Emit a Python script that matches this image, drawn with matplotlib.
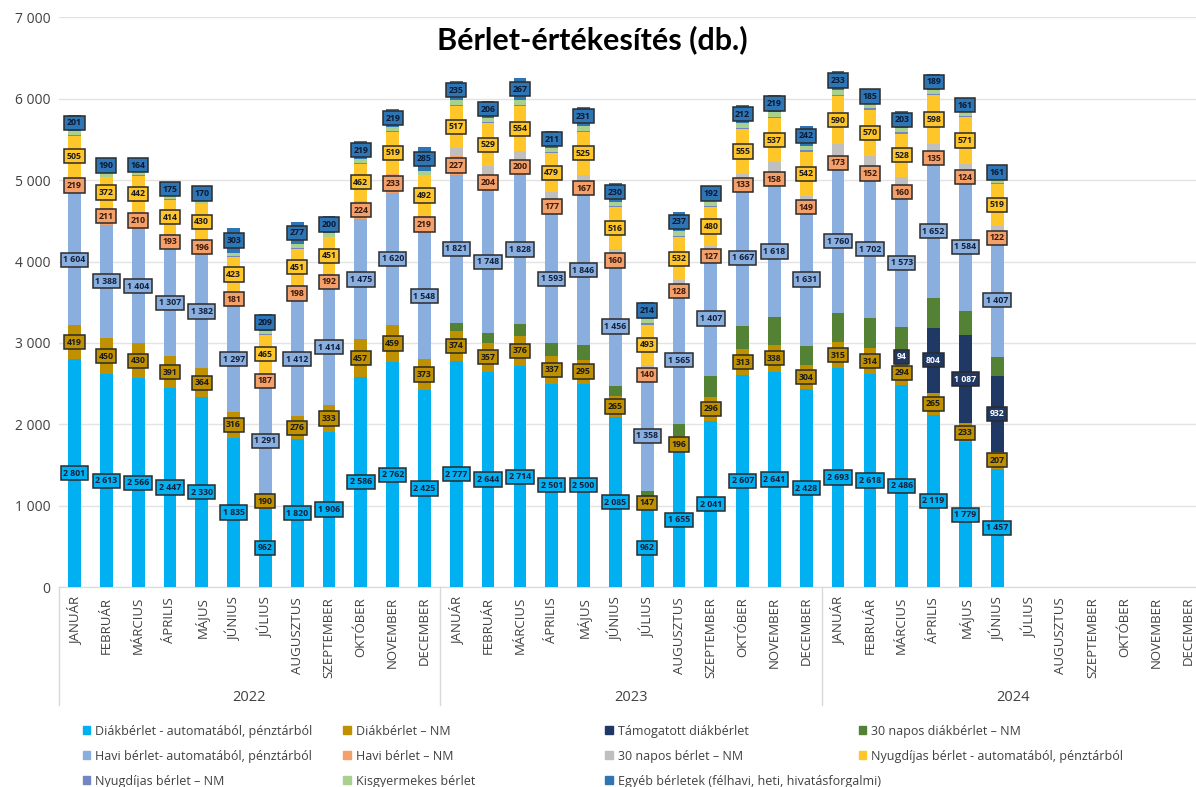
import numpy as np
import matplotlib.pyplot as plt
from matplotlib.patches import Patch
import matplotlib.transforms as mtransforms

plt.rcParams['font.family'] = ['Open Sans', 'DejaVu Sans']

# kategóriák
honapok = ['JANUÁR', 'FEBRUÁR', 'MÁRCIUS', 'ÁPRILIS', 'MÁJUS', 'JÚNIUS', 'JÚLIUS',
           'AUGUSZTUS', 'SZEPTEMBER', 'OKTÓBER', 'NOVEMBER', 'DECEMBER']
evek = ['2022', '2023', '2024']

# sorozatok (2022 jan - 2024 dec, 36 hónap; 2024 júl-dec még nincs adat)
diak_auto = [2801, 2613, 2566, 2447, 2330, 1835, 962, 1820, 1906, 2586, 2762, 2425,
             2777, 2644, 2714, 2501, 2500, 2085, 962, 1655, 2041, 2607, 2641, 2428,
             2693, 2618, 2486, 2119, 1779, 1457, 0, 0, 0, 0, 0, 0]
diak_nm = [419, 450, 430, 391, 364, 316, 190, 276, 333, 457, 459, 373,
           374, 357, 376, 337, 295, 265, 147, 196, 296, 313, 338, 304,
           315, 314, 294, 265, 233, 207, 0, 0, 0, 0, 0, 0]
tamogatott = [0, 0, 0, 0, 0, 0, 0, 0, 0, 0, 0, 0,
              0, 0, 0, 0, 0, 0, 0, 0, 0, 0, 0, 0,
              0, 0, 94, 804, 1087, 932, 0, 0, 0, 0, 0, 0]
diak30_nm = [0, 0, 0, 0, 0, 0, 0, 0, 0, 0, 0, 0,
             95, 120, 145, 155, 175, 125, 70, 155, 260, 290, 335, 230,
             360, 370, 325, 360, 290, 225, 0, 0, 0, 0, 0, 0]
havi_auto = [1604, 1388, 1404, 1307, 1382, 1297, 1291, 1412, 1414, 1475, 1620, 1548,
             1821, 1748, 1828, 1593, 1846, 1456, 1358, 1565, 1407, 1667, 1618, 1631,
             1760, 1702, 1573, 1652, 1584, 1407, 0, 0, 0, 0, 0, 0]
havi_nm = [219, 211, 210, 193, 196, 181, 187, 198, 192, 224, 233, 219,
           227, 204, 200, 177, 167, 160, 140, 128, 127, 133, 158, 149,
           173, 152, 160, 135, 124, 122, 0, 0, 0, 0, 0, 0]
berlet30_nm = [0, 0, 0, 0, 0, 0, 0, 0, 0, 0, 0, 0,
               100, 95, 90, 85, 85, 60, 55, 70, 60, 65, 130, 65,
               140, 140, 110, 110, 105, 85, 0, 0, 0, 0, 0, 0]
nyugdij_auto = [505, 372, 442, 414, 430, 423, 465, 451, 451, 462, 519, 492,
                517, 529, 554, 479, 525, 516, 493, 532, 480, 555, 537, 542,
                590, 570, 528, 598, 571, 519, 0, 0, 0, 0, 0, 0]
nyugdij_nm = [10, 10, 10, 10, 10, 10, 10, 10, 10, 10, 10, 10,
              15, 15, 15, 15, 15, 15, 15, 15, 15, 15, 15, 15,
              15, 15, 15, 15, 15, 15, 0, 0, 0, 0, 0, 0]
kisgyermekes = [45, 40, 40, 40, 40, 45, 40, 45, 50, 45, 50, 50,
                60, 55, 60, 55, 60, 55, 50, 55, 55, 60, 60, 60,
                60, 55, 55, 55, 50, 45, 0, 0, 0, 0, 0, 0]
egyeb = [201, 190, 164, 175, 170, 303, 209, 277, 200, 219, 219, 285,
         235, 206, 267, 211, 231, 230, 214, 237, 192, 212, 219, 242,
         233, 185, 203, 189, 161, 161, 0, 0, 0, 0, 0, 0]

sorozatok = [
    ('Diákbérlet - automatából, pénztárból', diak_auto, '#00B0F0', True, '#10213F'),
    ('Diákbérlet – NM', diak_nm, '#BF9000', True, '#1A1A1A'),
    ('Támogatott diákbérlet', tamogatott, '#203864', True, 'white'),
    ('30 napos diákbérlet – NM', diak30_nm, '#548235', False, None),
    ('Havi bérlet- automatából, pénztárból', havi_auto, '#8AAEDD', True, '#10213F'),
    ('Havi bérlet – NM', havi_nm, '#F4A06B', True, '#3A1A0A'),
    ('30 napos bérlet – NM', berlet30_nm, '#BFBFBF', False, None),
    ('Nyugdíjas bérlet - automatából, pénztárból', nyugdij_auto, '#FFC62A', True, '#1A1A1A'),
    ('Nyugdíjas bérlet – NM', nyugdij_nm, '#7386C4', False, None),
    ('Kisgyermekes bérlet', kisgyermekes, '#A9D18E', False, None),
    ('Egyéb bérletek (félhavi, heti, hivatásforgalmi)', egyeb, '#2E75B6', True, '#0B1A33'),
]


def ezres(v):
    return f'{v:,}'.replace(',', ' ')


fig = plt.figure(figsize=(11.96, 7.87), dpi=100)
ax = fig.add_axes([0.049, 0.254, 0.951, 0.724])

x = np.arange(36)
alap = np.zeros(36)
fogantyuk = {}
for nev, ertek, szin, cimke, tszin in sorozatok:
    ertek = np.array(ertek, dtype=float)
    bars = ax.bar(x, ertek, 0.4, bottom=alap, color=szin, label=nev, zorder=3)
    fogantyuk[nev] = Patch(color=szin)
    if cimke:
        feliratok = [ezres(int(v)) if v > 0 else '' for v in ertek]
        txts = ax.bar_label(bars, labels=feliratok, label_type='center',
                            fontsize=6.3, fontweight='bold', color=tszin, zorder=5)
        for t in txts:
            if t.get_text():
                t.set_bbox(dict(boxstyle='square,pad=0.3', fc=szin, ec='#2B2B2B', lw=1.1))
    alap = alap + ertek

ax.set_ylim(0, 7000)
ax.set_xlim(-0.5, 35.25)
ax.set_yticks(range(0, 7001, 1000))
ax.set_yticklabels([ezres(v) for v in range(0, 7001, 1000)], fontsize=10, color='#404040')
ax.yaxis.grid(True, color='#E3E3E3', lw=1, zorder=0)
ax.set_axisbelow(True)
for s in ['top', 'right', 'left']:
    ax.spines[s].set_visible(False)
ax.spines['bottom'].set_color('#D9D9D9')
ax.tick_params(axis='y', length=0, pad=6)
ax.set_xticks(x)
ax.set_xticklabels(honapok * 3, rotation=90, fontsize=9.5, color='#404040')
ax.tick_params(axis='x', length=0, pad=7)

# év csoportok
trans = mtransforms.blended_transform_factory(ax.transData, ax.transAxes)
for i in range(4):
    ax.plot([i * 12 - 0.5, i * 12 - 0.5], [0, -0.207], transform=trans,
            color='#D9D9D9', lw=1, clip_on=False)
for i, ev in enumerate(evek):
    ax.text(i * 12 + 5.5, -0.193, ev, transform=trans, ha='center', va='center',
            fontsize=10.5, color='#404040')

fig.text(0.495, 0.949, 'Bérlet-értékesítés (db.)', ha='center', va='center',
         fontsize=22, fontweight='bold', family=['Lato', 'DejaVu Sans'],
         bbox=dict(fc='white', ec='none', pad=4))

# jelmagyarázat: 4 oszlop, soronként
nevek = [s[0] for s in sorozatok]
oszlopok = [[0, 4, 8], [1, 5, 9], [2, 6, 10], [3, 7]]
oszlop_x = [0.069, 0.287, 0.506, 0.718]
for ox, idx in zip(oszlop_x, oszlopok):
    leg = fig.legend([fogantyuk[nevek[i]] for i in idx], [nevek[i] for i in idx],
                     loc='upper left', bbox_to_anchor=(ox, 0.079), frameon=False,
                     fontsize=9, handlelength=0.6, handleheight=0.6, handletextpad=0.4,
                     labelspacing=0.95, borderaxespad=0, borderpad=0, labelcolor='#404040')

fig.savefig('out.png', dpi=100)
